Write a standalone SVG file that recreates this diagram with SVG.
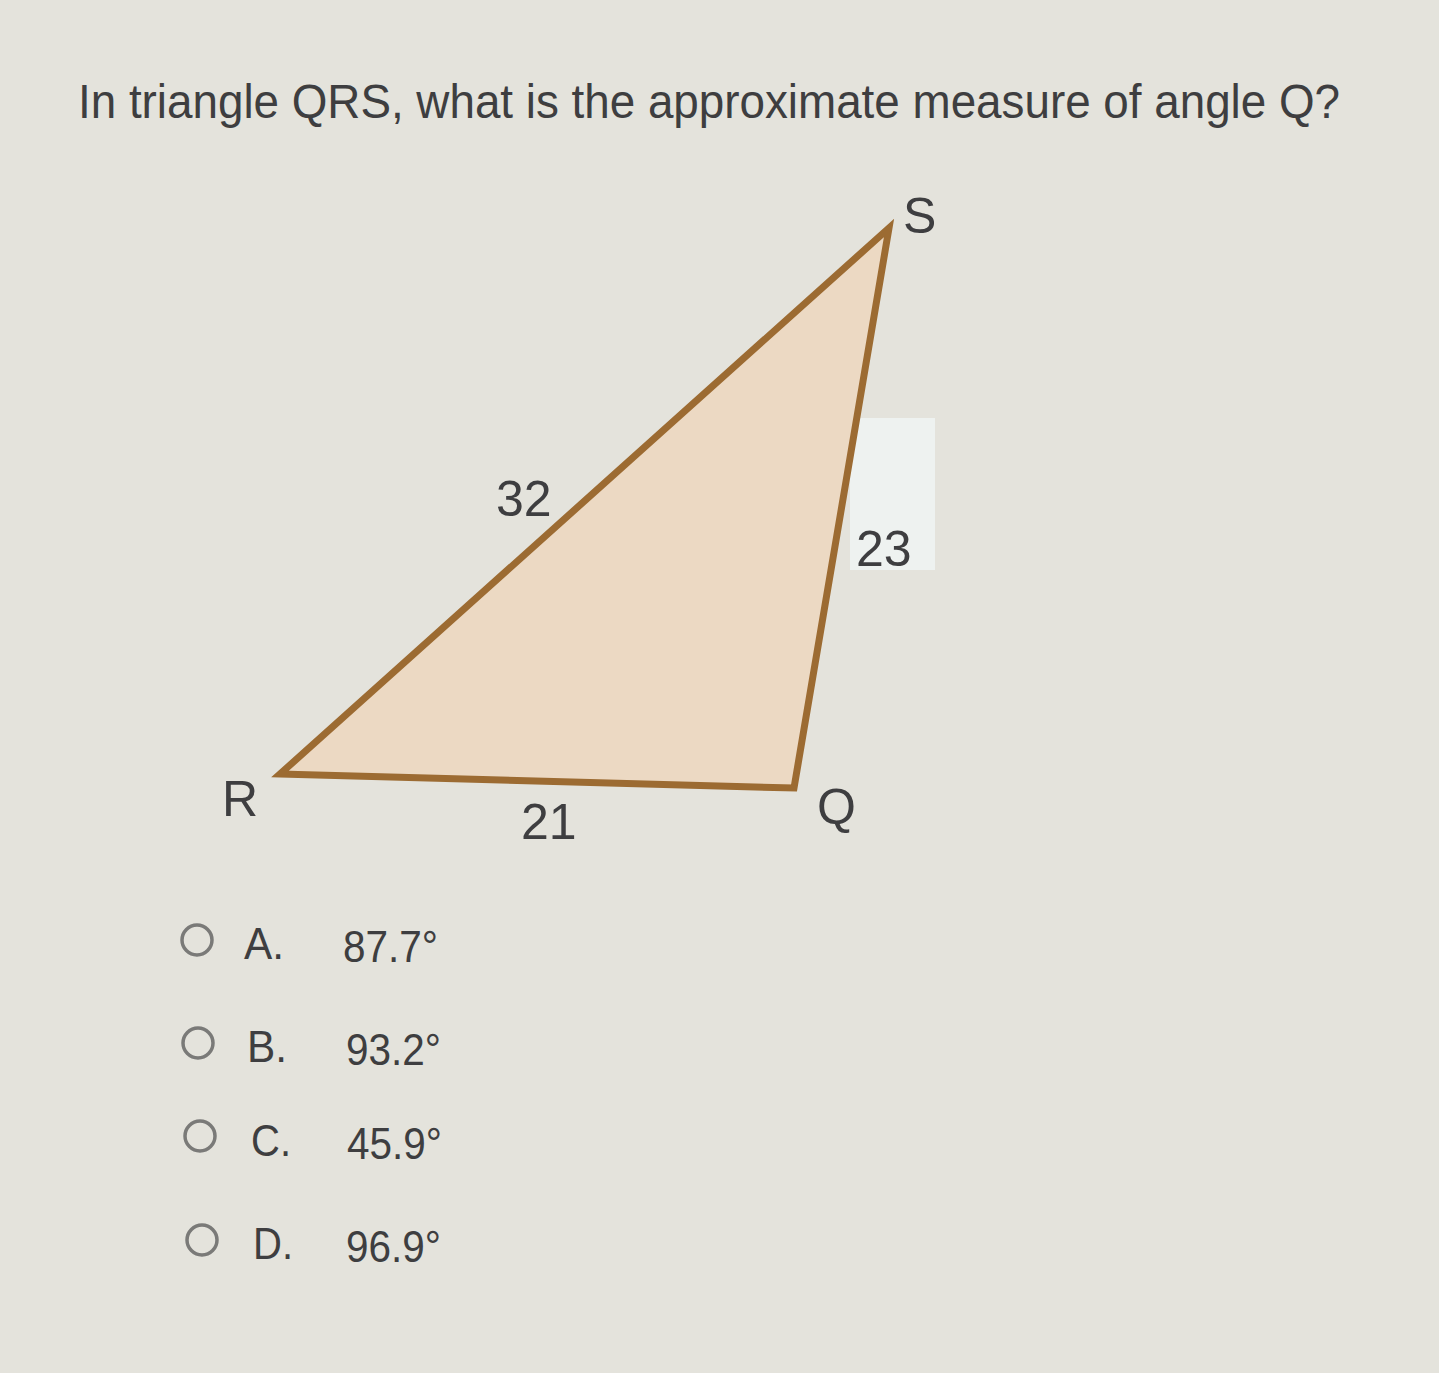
<svg xmlns="http://www.w3.org/2000/svg" width="1439" height="1373" viewBox="0 0 1439 1373">
<style>
text{font-family:"Liberation Sans",Arial,sans-serif;fill:#3e3e40}
.lbl{font-size:50px}
.opt{font-size:44px}
.radio{fill:none;stroke:#7a7a78;stroke-width:3.5}
</style>
<rect width="1439" height="1373" fill="#e4e3dc"/>
<rect x="850" y="418" width="85" height="152" fill="#eef2f0"/>
<text x="78" y="118" font-size="48" textLength="1262" lengthAdjust="spacingAndGlyphs">In triangle QRS, what is the approximate measure of angle Q?</text>
<g id="triangle">
<polygon points="280,774 794,788 889,228" fill="#ecd9c3" stroke="#9c6b32" stroke-width="7" stroke-linejoin="miter"/>
</g>
<g id="labels">
<text class="lbl" x="903" y="233">S</text>
<text class="lbl" x="222" y="816">R</text>
<text class="lbl" x="817" y="824">Q</text>
<text class="lbl" x="496" y="516">32</text>
<text class="lbl" x="521" y="839">21</text>
<text class="lbl" x="856" y="566">23</text>
</g>
<g id="optA"><circle class="radio" cx="197" cy="940" r="15"/><text class="opt" x="244" y="959" textLength="40" lengthAdjust="spacingAndGlyphs">A.</text><text class="opt" x="343" y="962" textLength="95" lengthAdjust="spacingAndGlyphs">87.7°</text></g>
<g id="optB"><circle class="radio" cx="198" cy="1043" r="15"/><text class="opt" x="247" y="1062" textLength="40" lengthAdjust="spacingAndGlyphs">B.</text><text class="opt" x="346" y="1065" textLength="95" lengthAdjust="spacingAndGlyphs">93.2°</text></g>
<g id="optC"><circle class="radio" cx="200" cy="1136" r="15"/><text class="opt" x="251" y="1156" textLength="40" lengthAdjust="spacingAndGlyphs">C.</text><text class="opt" x="347" y="1159" textLength="95" lengthAdjust="spacingAndGlyphs">45.9°</text></g>
<g id="optD"><circle class="radio" cx="202" cy="1240" r="15"/><text class="opt" x="253" y="1259" textLength="40" lengthAdjust="spacingAndGlyphs">D.</text><text class="opt" x="346" y="1262" textLength="95" lengthAdjust="spacingAndGlyphs">96.9°</text></g>
</svg>
